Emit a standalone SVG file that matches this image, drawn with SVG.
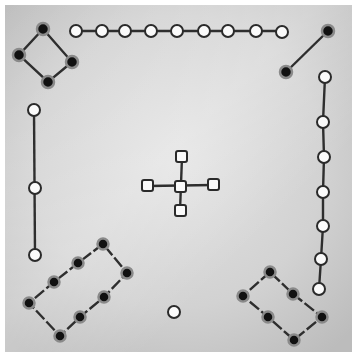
<svg xmlns="http://www.w3.org/2000/svg" width="352" height="352" viewBox="0 0 352 352">
<defs>
<radialGradient id="bg" cx="0.5" cy="0.45" r="0.7">
<stop offset="0" stop-color="#e2e2e2"/>
<stop offset="0.6" stop-color="#d2d2d2"/>
<stop offset="1" stop-color="#bcbcbc"/>
</radialGradient>
<linearGradient id="sheen" x1="0" y1="0" x2="1" y2="1">
<stop offset="0" stop-color="#ffffff" stop-opacity="0"/>
<stop offset="0.45" stop-color="#ffffff" stop-opacity="0.25"/>
<stop offset="0.7" stop-color="#ffffff" stop-opacity="0"/>
</linearGradient>
</defs>
<style>
.w{fill:#fafafa;stroke:#2a2a2a;stroke-width:2}
.b{fill:#111;stroke:#8a8a8a;stroke-width:2.5}
.sq{fill:#fafafa;stroke:#2a2a2a;stroke-width:2}
.ln{stroke:#2e2e2e;stroke-width:2.4;fill:none}
.dl{stroke:#2e2e2e;stroke-width:2.4;fill:none;stroke-dasharray:12 3}
</style>
<rect width="352" height="352" fill="#ffffff"/>
<rect x="5" y="5" width="347" height="347" fill="url(#bg)"/>
<rect x="5" y="5" width="347" height="347" fill="url(#sheen)"/>
<g id="connectors">
<polygon class="ln" points="43,29 19,55 48,82 72,62"/>
<line class="ln" x1="76" y1="31" x2="282" y2="31"/>
<line class="ln" x1="328" y1="31" x2="286" y2="72"/>
<polyline class="ln" points="325,77 323,122 324,157 323,192 323,226 321,259 319,289"/>
<line class="ln" x1="34" y1="110" x2="35" y2="255"/>
<line class="ln" x1="182" y1="157" x2="180" y2="211"/>
<line class="ln" x1="148" y1="186" x2="213" y2="185"/>
<polygon class="dl" points="103,244 78,263 54,282 29,303 60,336 80,317 104,297 127,273"/>
<polygon class="dl" points="270,272 243,296 268,317 294,340 322,317 293,294"/>
</g>
<g id="diamond">
<circle class="b" cx="43" cy="29" r="6"/>
<circle class="b" cx="19" cy="55" r="6"/>
<circle class="b" cx="72" cy="62" r="6"/>
<circle class="b" cx="48" cy="82" r="6"/>
</g>
<g id="top-row">
<circle class="w" cx="76" cy="31" r="6"/>
<circle class="w" cx="102" cy="31" r="6"/>
<circle class="w" cx="125" cy="31" r="6"/>
<circle class="w" cx="151" cy="31" r="6"/>
<circle class="w" cx="177" cy="31" r="6"/>
<circle class="w" cx="204" cy="31" r="6"/>
<circle class="w" cx="228" cy="31" r="6"/>
<circle class="w" cx="256" cy="31" r="6"/>
<circle class="w" cx="282" cy="32" r="6"/>
</g>
<g id="diagonal">
<circle class="b" cx="328" cy="31" r="6"/>
<circle class="b" cx="286" cy="72" r="6"/>
</g>
<g id="right-column">
<circle class="w" cx="325" cy="77" r="6"/>
<circle class="w" cx="323" cy="122" r="6"/>
<circle class="w" cx="324" cy="157" r="6"/>
<circle class="w" cx="323" cy="192" r="6"/>
<circle class="w" cx="323" cy="226" r="6"/>
<circle class="w" cx="321" cy="259" r="6"/>
<circle class="w" cx="319" cy="289" r="6"/>
</g>
<g id="left-column">
<circle class="w" cx="34" cy="110" r="6"/>
<circle class="w" cx="35" cy="188" r="6"/>
<circle class="w" cx="35" cy="255" r="6"/>
</g>
<g id="cross">
<rect class="sq" x="176" y="151" width="11" height="11" rx="2"/>
<rect class="sq" x="142" y="180" width="11" height="11" rx="2"/>
<rect class="sq" x="175" y="181" width="11" height="11" rx="2"/>
<rect class="sq" x="208" y="179" width="11" height="11" rx="2"/>
<rect class="sq" x="175" y="205" width="11" height="11" rx="2"/>
</g>
<g id="single">
<circle class="w" cx="174" cy="312" r="6"/>
</g>
<g id="bottom-left-loop">
<circle class="b" cx="103" cy="244" r="5.5"/>
<circle class="b" cx="78" cy="263" r="5.5"/>
<circle class="b" cx="54" cy="282" r="5.5"/>
<circle class="b" cx="29" cy="303" r="5.5"/>
<circle class="b" cx="60" cy="336" r="5.5"/>
<circle class="b" cx="80" cy="317" r="5.5"/>
<circle class="b" cx="104" cy="297" r="5.5"/>
<circle class="b" cx="127" cy="273" r="5.5"/>
</g>
<g id="bottom-right-loop">
<circle class="b" cx="270" cy="272" r="5.5"/>
<circle class="b" cx="243" cy="296" r="5.5"/>
<circle class="b" cx="268" cy="317" r="5.5"/>
<circle class="b" cx="294" cy="340" r="5.5"/>
<circle class="b" cx="322" cy="317" r="5.5"/>
<circle class="b" cx="293" cy="294" r="5.5"/>
</g>
</svg>
